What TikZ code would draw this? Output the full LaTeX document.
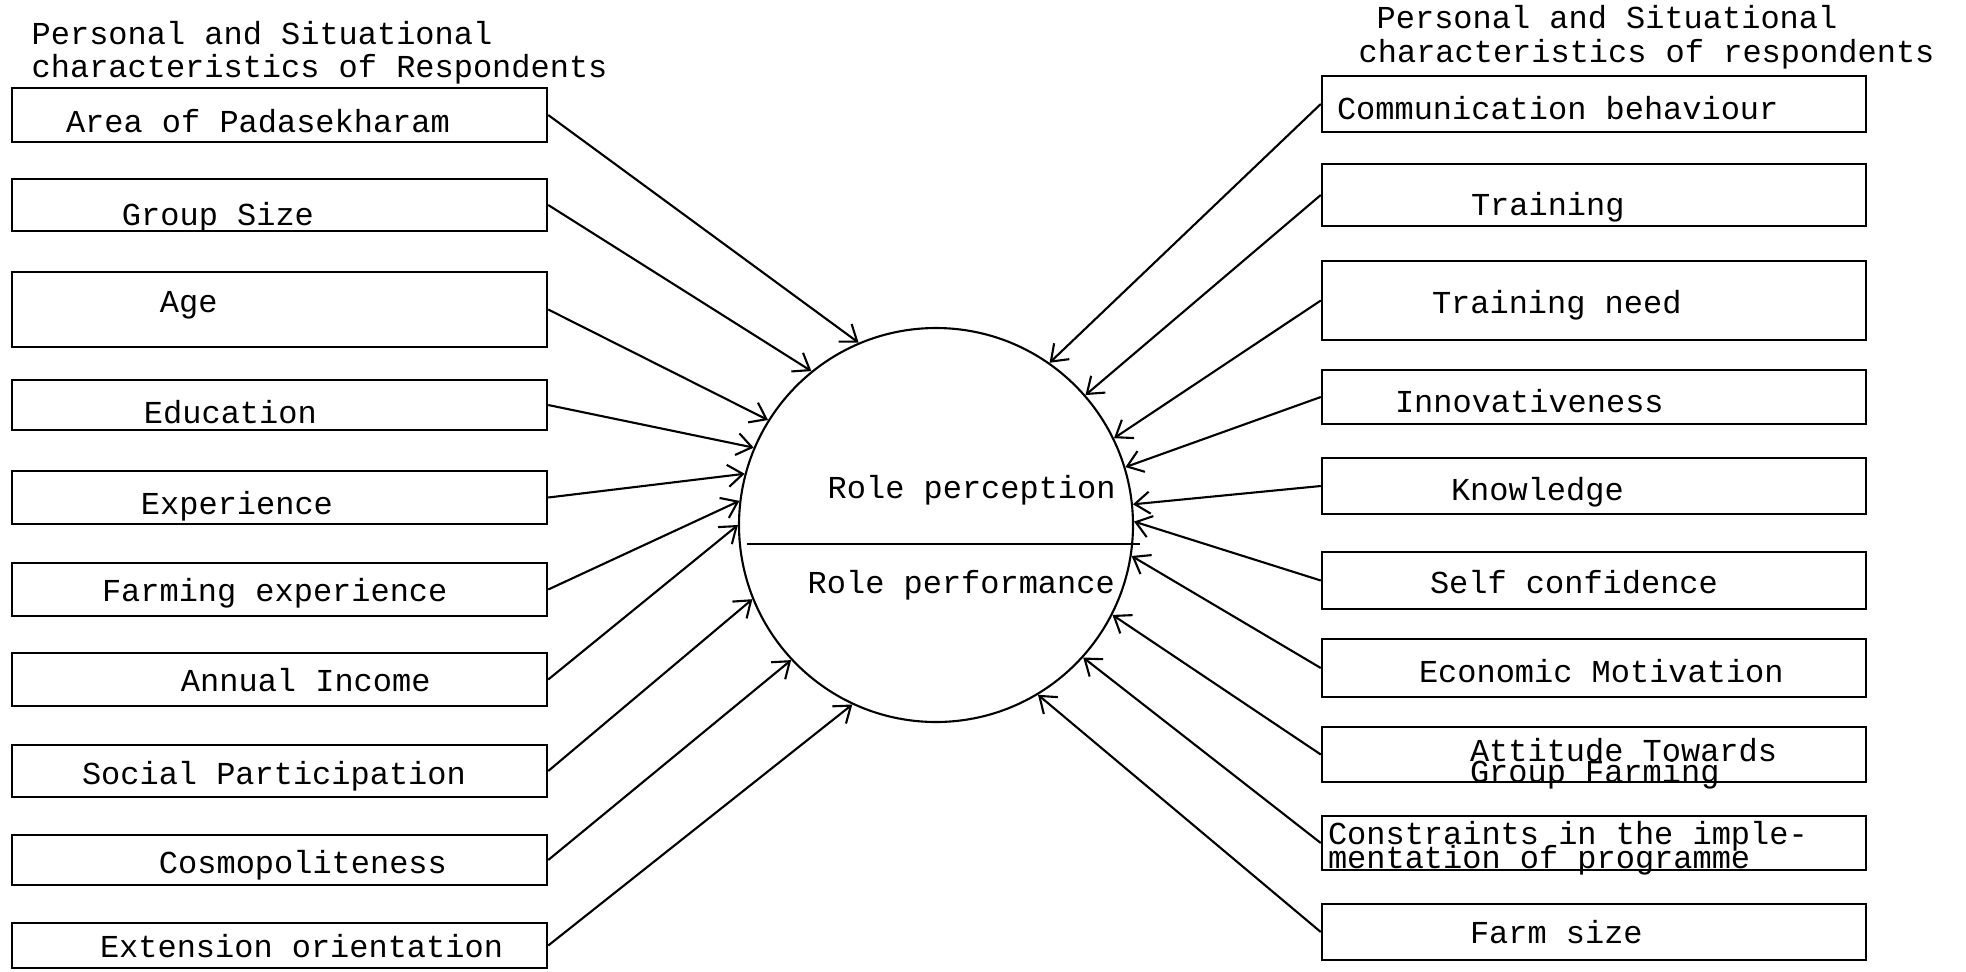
\documentclass[tikz,border=0pt]{standalone}
\usepackage{fontspec}
\newfontfamily\typeFont{Liberation Mono}
\usetikzlibrary{arrows.meta}
% left indent of a line, with full-width spaces as on a typewriter
\newcommand{\indentBy}[1]{\spaceskip=0.6em\relax\hspace*{#1mm}}
\tikzset{
    font=\typeFont\fontsize{9.1pt}{9.7pt}\selectfont,
    %
    % box for one characteristic
    baseBlock/.style={
        rectangle, draw=black, line width=0.7pt,
        inner xsep=0pt, inner ysep=1pt,
        align=left, minimum height=5.3mm,
        text height=6pt, text depth=0pt
    },
    leftBlock/.style={baseBlock, text width=53.5mm},
    rightBlock/.style={baseBlock, text width=54.4mm},
    %
    % the central circle
    roleCircle/.style={circle, draw=black, line width=0.6pt, minimum size=39.4mm, inner sep=0pt},
    plainText/.style={anchor=base west, inner sep=0pt},
    %
    % arrows into the circle
    conn/.style={
        draw=black, line width=0.6pt,
        -{Straight Barb[length=1.5mm, width=2.2mm]}
    }
}

\begin{document}
\begin{tikzpicture}[x=0.1mm, y=-0.1mm]
	\useasboundingbox (0,0) rectangle (1966,971);

	%% headings
	\node[plainText] (hdrL1) at (31,44) {Personal and Situational};
	\node[plainText] (hdrL2) at (31,77) {characteristics of Respondents};
	\node[plainText] (hdrR1) at (1376,28) {Personal and Situational};
	\node[plainText] (hdrR2) at (1358,62) {characteristics of respondents};

	%% left column
	\node[leftBlock, minimum height=5.4mm, text height=10.1pt] (area) at (279.5,115) {\indentBy{5.4}Area of Padasekharam};
	\node[leftBlock, minimum height=5.2mm, text height=11.5pt] (group) at (279.5,205) {\indentBy{11}Group Size};
	\node[leftBlock, minimum height=7.5mm, text height=1.9pt] (age) at (279.5,309.5) {\indentBy{14.8}Age};
	\node[leftBlock, minimum height=5mm, text height=10.5pt] (edu) at (279.5,405) {\indentBy{13.2}Education};
	\node[leftBlock, text height=9.7pt] (exper) at (279.5,497.5) {\indentBy{12.9}Experience};
	\node[leftBlock, text height=6.9pt] (farmexp) at (279.5,589.5) {\indentBy{9}Farming experience};
	\node[leftBlock, text height=6.9pt] (income) at (279.5,679.5) {\indentBy{16.9}Annual Income};
	\node[leftBlock, minimum height=5.2mm, text height=7.6pt] (social) at (279.5,771) {\indentBy{7}Social Participation};
	\node[leftBlock, minimum height=5mm, text height=7.6pt] (cosmo) at (279.5,860) {\indentBy{14.7}Cosmopoliteness};
	\node[leftBlock, minimum height=4.5mm, text height=6.9pt] (extn) at (279.5,945.5) {\indentBy{8.8}Extension orientation};

	%% right column
	\node[rightBlock, minimum height=5.6mm, text height=9pt] (comm) at (1594,104) {\indentBy{1.5}Communication behaviour};
	\node[rightBlock, minimum height=6.2mm, text height=11.5pt] (train) at (1594,195) {\indentBy{14.9}Training};
	\node[rightBlock, minimum height=7.9mm, text height=7.2pt] (tneed) at (1594,300.5) {\indentBy{11}Training need};
	\node[rightBlock, minimum height=5.4mm, text height=8.7pt] (innov) at (1594,397) {\indentBy{7.3}Innovativeness};
	\node[rightBlock, minimum height=5.6mm, text height=8pt] (know) at (1594,486) {\indentBy{12.9}Knowledge};
	\node[rightBlock, minimum height=5.7mm, text height=7.6pt] (selfc) at (1594,580.5) {\indentBy{10.8}Self confidence};
	\node[rightBlock, minimum height=5.8mm, text height=8.3pt] (econ) at (1594,668) {\indentBy{9.7}Economic Motivation};
	\node[rightBlock, minimum height=5.5mm, text height=3.9pt] (attit) at (1594,754.5) {\indentBy{14.8}Attitude Towards\\[-3.7pt]\indentBy{14.8}Group Farming};
	\node[rightBlock, minimum height=5.4mm, text height=1.1pt] (constr) at (1594,843) {\indentBy{0.6}Constraints in the imple-\\[-2.9pt]\indentBy{0.6}mentation of programme};
	\node[rightBlock, minimum height=5.6mm, text height=6.5pt] (farm) at (1594,932) {\indentBy{14.8}Farm size};

	%% circle in the middle
	\node[roleCircle] (role) at (936,525) {};
	\draw[line width=0.6pt] (747,544) -- (1140,544);
	\node[plainText] (perc) at (827,498) {Role perception};
	\node[plainText] (perf) at (807,593) {Role performance};

	%% arrows from the left
	\draw[conn] (area.east) -- (role.113.7);
	\draw[conn] (group.east) -- (role.129.5);
	\draw[conn] (age.east) -- (role.148.9);
	\draw[conn] (edu.east) -- (role.157);
	\draw[conn] (exper.east) -- (role.165.5);
	\draw[conn] (farmexp.east) -- (role.173.7);
	\draw[conn] (income.east) -- (role.180.6);
	\draw[conn] (social.east) -- (role.202.8);
	\draw[conn] (cosmo.east) -- (role.223.4);
	\draw[conn] (extn.east) -- (role.245.5);

	%% arrows from the right
	\draw[conn] (comm.west) -- (role.55.7);
	\draw[conn] (train.west) -- (role.41.9);
	\draw[conn] (tneed.west) -- (role.26.7);
	\draw[conn] (innov.west) -- (role.17.4);
	\draw[conn] (know.west) -- (role.6.3);
	\draw[conn] (selfc.west) -- (role.1.4);
	\draw[conn] (econ.west) -- (role.-9.5);
	\draw[conn] (attit.west) -- (role.-27.2);
	\draw[conn] (constr.west) -- (role.-42.6);
	\draw[conn] (farm.west) -- (role.-59.5);

\end{tikzpicture}
\end{document}
